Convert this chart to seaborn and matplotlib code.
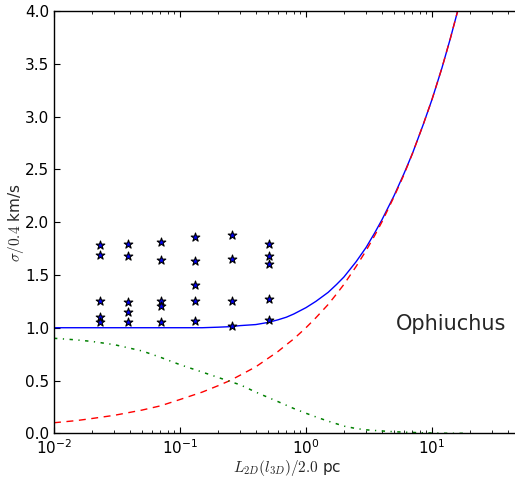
import matplotlib
matplotlib.use('Agg')
import matplotlib.pyplot as plt
import pandas as pd
import seaborn as sns

# curves (x in units of 2.0 pc)
x_curve = [0.01, 0.015, 0.02, 0.03, 0.05, 0.07, 0.1, 0.15, 0.2, 0.25, 0.3, 0.4,
           0.5, 0.6, 0.7, 0.8, 1.0, 1.2, 1.5, 1.75, 2.0, 2.5, 3.0, 3.5, 4.0, 5.0,
           6.0, 7.0, 8.5, 10.0, 12.0, 14.0, 16.0, 18.0]
total = [1.00, 1.00, 1.00, 1.00, 1.00, 1.00, 1.00, 1.00, 1.005, 1.01, 1.02, 1.03,
         1.05, 1.075, 1.10, 1.13, 1.19, 1.25, 1.335, 1.41, 1.48, 1.625, 1.76, 1.895, 2.02, 2.25,
         2.46, 2.65, 2.92, 3.16, 3.46, 3.74, 4.00, 4.24]
turb = [0.10, 0.12, 0.14, 0.17, 0.22, 0.26, 0.32, 0.39, 0.45, 0.50, 0.55, 0.63,
        0.71, 0.775, 0.84, 0.894, 1.00, 1.095, 1.22, 1.32, 1.41, 1.58, 1.73, 1.87, 2.00, 2.24,
        2.45, 2.65, 2.92, 3.16, 3.46, 3.74, 4.00, 4.24]
thermal = [0.90, 0.885, 0.87, 0.84, 0.78, 0.72, 0.65, 0.58, 0.53, 0.49, 0.46, 0.39,
           0.34, 0.30, 0.265, 0.235, 0.19, 0.155, 0.115, 0.09, 0.068, 0.045, 0.033, 0.027, 0.022, 0.015,
           0.011, 0.008, 0.005, 0.003, 0.001, 0.0, 0.0, 0.0]

# observed points
obs_x = [0.0232] * 5 + [0.0389] * 5 + [0.0703] * 5 + [0.132] * 5 + [0.259] * 4 + [0.512] * 5
obs_y = [1.78, 1.69, 1.25, 1.10, 1.05,
         1.79, 1.68, 1.24, 1.15, 1.05,
         1.81, 1.64, 1.25, 1.21, 1.05,
         1.86, 1.63, 1.40, 1.25, 1.06,
         1.88, 1.65, 1.25, 1.02,
         1.79, 1.68, 1.60, 1.27, 1.07]

sns.set_style('ticks')
plt.rcParams['mathtext.fontset'] = 'cm'
plt.rcParams['font.family'] = ['DejaVu Sans']

fig = plt.figure(figsize=(5.15, 4.78), dpi=100)
ax = fig.add_axes([54 / 515, 1 - 433.3 / 478, 466 / 515, 422.3 / 478])

df = pd.DataFrame({'x': x_curve, 'total': total, 'turb': turb, 'thermal': thermal})
sns.lineplot(data=df, x='x', y='total', ax=ax, color='b', linewidth=1)
sns.lineplot(data=df, x='x', y='turb', ax=ax, color='r', linestyle=(0, (5, 4)), linewidth=1)
sns.lineplot(data=df, x='x', y='thermal', ax=ax, color=(0, 0.5, 0),
             linestyle=(0, (2.2, 3.6, 0.8, 3.6)), linewidth=1.1)
sns.scatterplot(x=obs_x, y=obs_y, ax=ax, marker='*', s=42, color='b',
                edgecolor='k', linewidth=0.8, zorder=3)

ax.set_xscale('log')
ax.set_xlim(1e-2, 50)
ax.set_ylim(0, 4)
ax.set_yticks([0, 0.5, 1.0, 1.5, 2.0, 2.5, 3.0, 3.5, 4.0])
ax.yaxis.set_major_formatter(matplotlib.ticker.FormatStrFormatter('%.1f'))

ax.tick_params(which='both', direction='in', top=True, right=False, labelsize=11, colors='k')
ax.tick_params(which='major', length=4, width=0.8)
ax.tick_params(which='minor', length=2, width=0.6)
for s in ax.spines.values():
    s.set_color('k')
    s.set_linewidth(1)

ax.set_xlabel('$L_{2D}(l_{3D})/2.0$ pc', fontsize=11)
ax.set_ylabel('$\\sigma/0.4$ km/s', fontsize=11, labelpad=-1)
ax.xaxis.set_label_coords(0.5, -0.058)
ax.text(5.2, 1.04, 'Ophiuchus', fontsize=15, va='center')

fig.savefig('out.png', dpi=100)
